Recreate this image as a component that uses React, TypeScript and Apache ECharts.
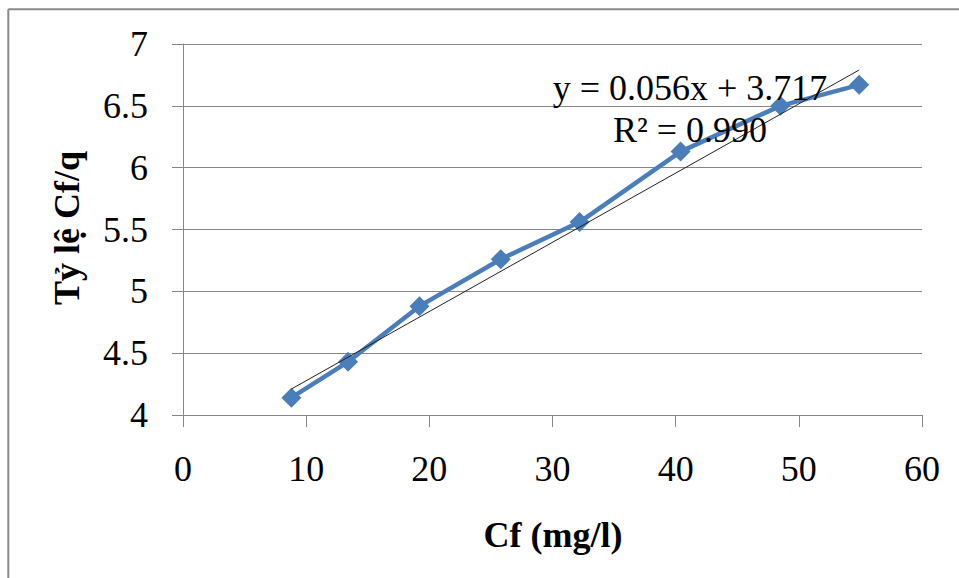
import React, { useEffect, useRef } from "react";
import * as echarts from "echarts";

const cfValues = [8.8, 13.4, 19.2, 25.8, 32.2, 40.4, 48.5, 54.9];
const ratioValues = [4.14, 4.43, 4.88, 5.26, 5.56, 6.13, 6.5, 6.67];
const trendX = [8.8, 54.9];
const trendY = [4.21, 6.79];
const xTitle = "Cf (mg/l)";
const yTitle = "Tỷ lệ Cf/q";
const equationText = "y = 0.056x + 3.717";
const r2Text = "R² = 0.990";

const FONT = "'Liberation Serif', 'Times New Roman', serif";
const GRID = "#868686";

export default function App() {
  const ref = useRef<HTMLDivElement>(null);
  useEffect(() => {
    if (!ref.current) return;
    const chart = echarts.init(ref.current, undefined, { renderer: "svg" });
    const option: any = {
      animation: false,
      backgroundColor: "#ffffff",
      grid: { left: 183, right: 37, top: 44, bottom: 163, containLabel: false },
      xAxis: {
        type: "value",
        min: 0,
        max: 60,
        interval: 10,
        axisLine: { show: true, lineStyle: { color: GRID, width: 1 } },
        axisTick: { show: true, length: 12, lineStyle: { color: GRID, width: 1 } },
        splitLine: { show: false },
        axisLabel: {
          fontFamily: FONT,
          fontSize: 36,
          color: "#000",
          margin: 54,
          verticalAlign: "middle",
        },
      },
      yAxis: {
        type: "value",
        min: 4,
        max: 7,
        interval: 0.5,
        axisLine: { show: true, lineStyle: { color: GRID, width: 1 } },
        axisTick: { show: true, length: 11, lineStyle: { color: GRID, width: 1 } },
        splitLine: { show: true, lineStyle: { color: GRID, width: 1 } },
        axisLabel: {
          fontFamily: FONT,
          fontSize: 36,
          color: "#000",
          margin: 35,
        },
      },
      series: [
        {
          type: "line",
          data: cfValues.map((x, i) => [x, ratioValues[i]]),
          symbol: "diamond",
          symbolSize: 20,
          lineStyle: { color: "#4A7EBB", width: 4.5 },
          itemStyle: { color: "#4A7EBB" },
          z: 2,
        },
        {
          type: "line",
          data: trendX.map((x, i) => [x, trendY[i]]),
          symbol: "none",
          lineStyle: { color: "#222", width: 1 },
          z: 3,
        },
      ],
      graphic: [
        {
          type: "line",
          shape: { x1: 8.3, y1: 9.3, x2: 959, y2: 9.3 },
          style: { stroke: "#8a8a8a", lineWidth: 2 },
        },
        {
          type: "line",
          shape: { x1: 8.3, y1: 9.3, x2: 8.3, y2: 578 },
          style: { stroke: "#8a8a8a", lineWidth: 2 },
        },
        {
          type: "text",
          x: 553,
          y: 535,
          style: {
            text: xTitle,
            font: `bold 36px ${FONT}`,
            fill: "#000",
            textAlign: "center",
            textVerticalAlign: "middle",
          },
        },
        {
          type: "text",
          x: 67,
          y: 228,
          rotation: Math.PI / 2,
          style: {
            text: yTitle,
            font: `bold 36px ${FONT}`,
            fill: "#000",
            textAlign: "center",
            textVerticalAlign: "middle",
          },
        },
        {
          type: "text",
          x: 690,
          y: 88,
          z: 10,
          style: {
            text: equationText,
            font: `36px ${FONT}`,
            fill: "#000",
            textAlign: "center",
            textVerticalAlign: "middle",
          },
        },
        {
          type: "text",
          x: 690,
          y: 130,
          z: 10,
          style: {
            text: r2Text,
            font: `36px ${FONT}`,
            fill: "#000",
            textAlign: "center",
            textVerticalAlign: "middle",
          },
        },
      ],
    };
    chart.setOption(option);
    return () => chart.dispose();
  }, []);
  return (
    <div
      ref={ref}
      style={{ position: "fixed", left: 0, top: 0, width: 959, height: 578 }}
    />
  );
}
